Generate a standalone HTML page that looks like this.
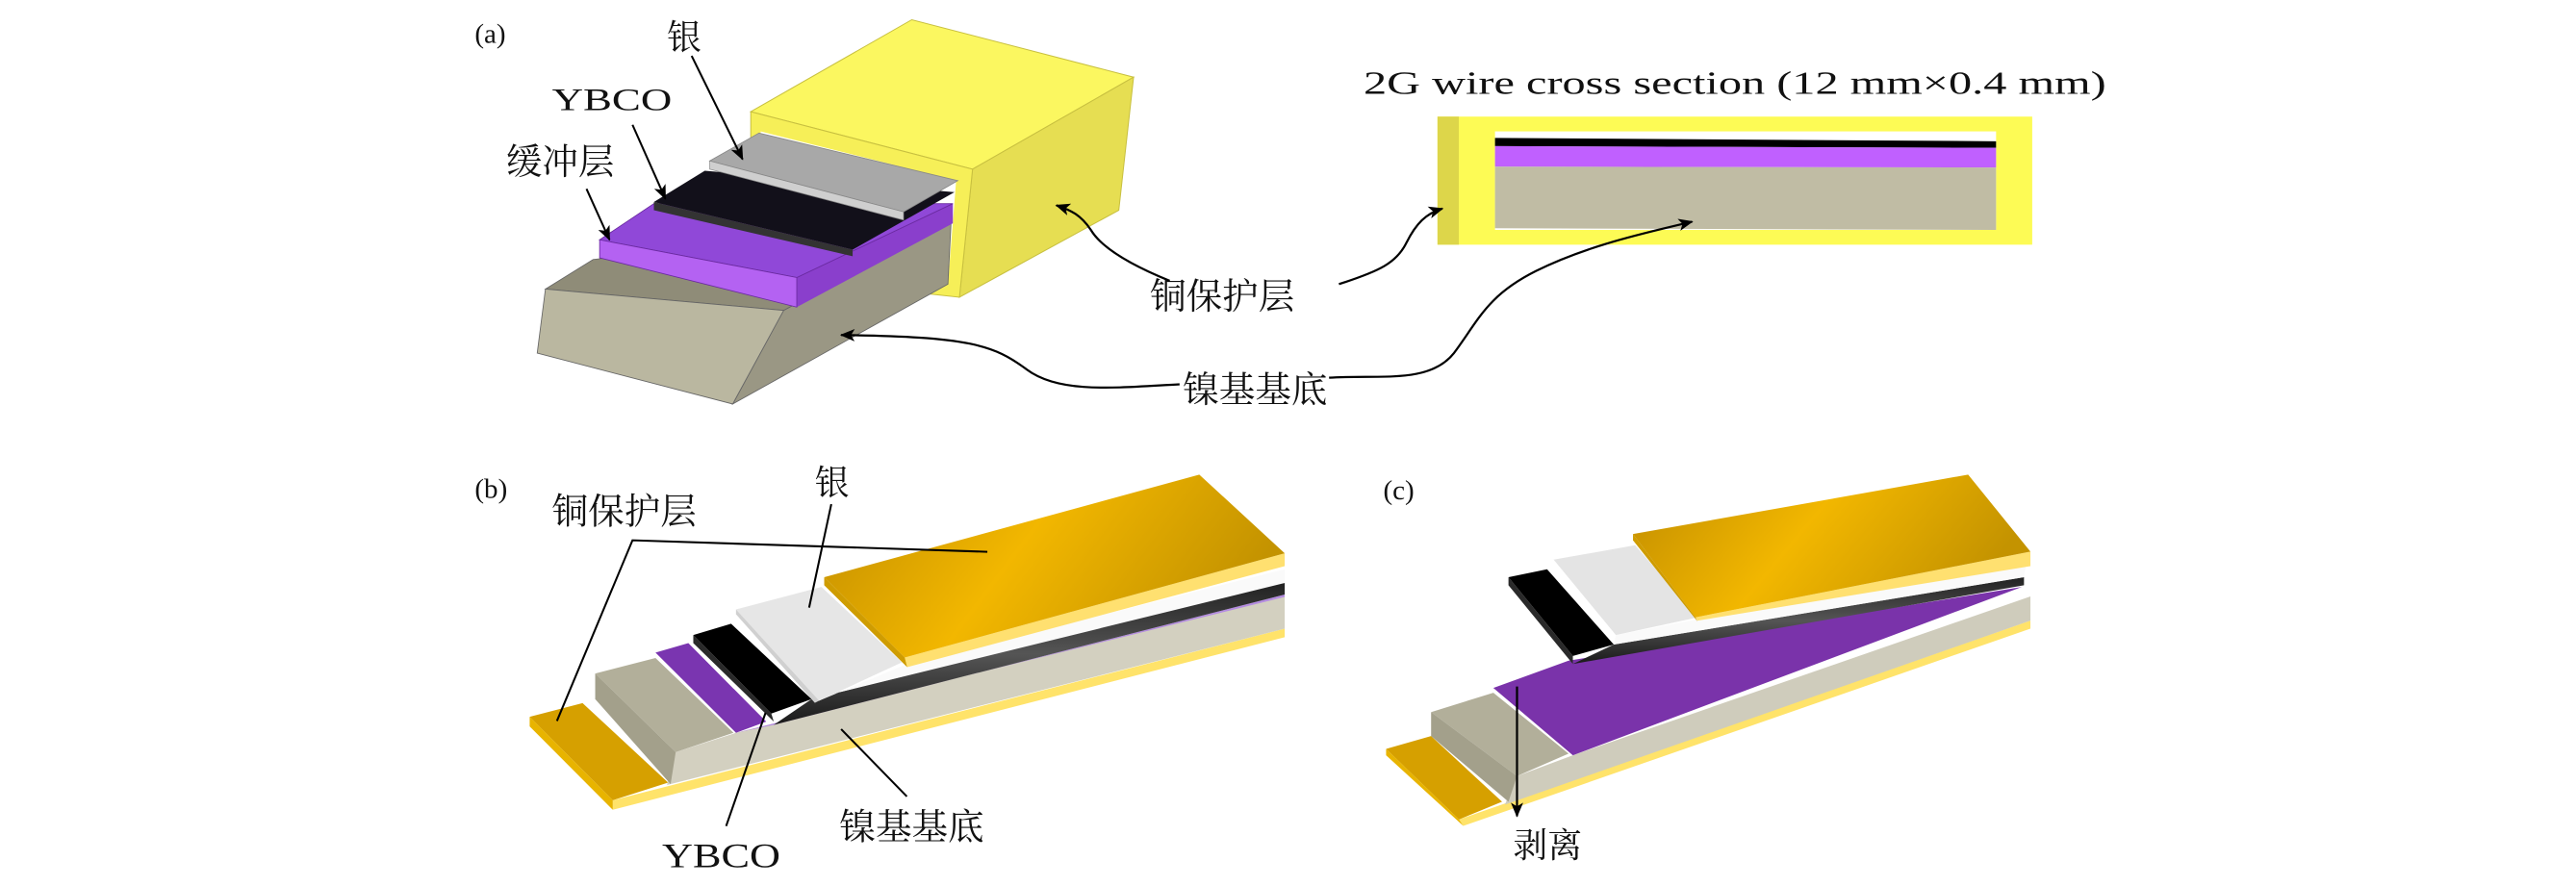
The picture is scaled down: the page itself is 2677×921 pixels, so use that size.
<!DOCTYPE html>
<html><head><meta charset="utf-8"><style>
html,body{margin:0;padding:0;background:#fff;}
svg{display:block;}
text{font-family:"Liberation Serif","Noto Serif CJK SC","Noto Sans CJK SC",serif;fill:#111;}
</style></head><body>
<svg width="2677" height="921" viewBox="0 0 1568 539.5" preserveAspectRatio="none" xmlns="http://www.w3.org/2000/svg">
<defs>
<marker id="ah" viewBox="0 0 12 10" refX="11" refY="5" markerWidth="9" markerHeight="8" orient="auto" markerUnits="userSpaceOnUse">
<path d="M0,0 L12,5 L0,10 L3,5 z" fill="#000"/></marker>
<linearGradient id="gold" x1="0" y1="0" x2="1" y2="0.3">
<stop offset="0" stop-color="#c08c00"/><stop offset="0.5" stop-color="#f2b700"/><stop offset="1" stop-color="#c49300"/></linearGradient>
<linearGradient id="blk" x1="0" y1="0" x2="0" y2="1">
<stop offset="0" stop-color="#222"/><stop offset="0.5" stop-color="#555"/><stop offset="1" stop-color="#1a1a1a"/></linearGradient>
</defs>
<rect width="1568" height="540" fill="#fff"/>

<!-- ===== (a) ===== -->
<text x="289" y="26" font-size="17">(a)</text>
<polygon points="457,68 555,12 690,47 592,103" fill="#fbf760" stroke="#c8c040" stroke-width="0.6"/>
<polygon points="592,103 690,47 681,128 584,181" fill="#e6de52" stroke="#c8c040" stroke-width="0.6"/>
<polygon points="457,68 592,103 584,181 566,179 457,160" fill="#f6ef58" stroke="#c8c040" stroke-width="0.6"/>
<polygon points="463,80 582,110 577,173 463,165" fill="#fff"/>
<polygon points="477,189 579,134 577,173 446,246" fill="#9a9784" stroke="#666" stroke-width="0.5"/>
<polygon points="332,176 361,158 579,134 477,189" fill="#8f8c78" stroke="#666" stroke-width="0.5"/>
<polygon points="332,176 477,189 446,246 327,215" fill="#bab7a0" stroke="#666" stroke-width="0.5"/>
<polygon points="485,169 580,124 580,136 485,187" fill="#8a3fcc"/>
<polygon points="365,146 398,124 580,124 485,169" fill="#9048d8" stroke="#6a2aa0" stroke-width="0.5"/>
<polygon points="365,146 485,169 485,187 365,157" fill="#b462f2" stroke="#6a2aa0" stroke-width="0.5"/>
<polygon points="398,123 429,104 581,117 519,152" fill="#12101a"/>
<polygon points="398,123 519,152 519,156 398,128" fill="#333"/>
<polygon points="432,98 462,81 583,110 550,129" fill="#a8a8a8" stroke="#888" stroke-width="0.5"/>
<polygon points="432,98 550,129 550,134 432,103" fill="#cfcfcf" stroke="#888" stroke-width="0.4"/>
<text x="406" y="30" font-size="21">银</text>
<text x="336" y="67" font-size="19" textLength="73" lengthAdjust="spacingAndGlyphs">YBCO</text>
<text x="308" y="106" font-size="22">缓冲层</text>
<line x1="421" y1="34" x2="452" y2="97" stroke="#000" stroke-width="1.2" marker-end="url(#ah)"/>
<line x1="385" y1="76" x2="405" y2="121" stroke="#000" stroke-width="1.2" marker-end="url(#ah)"/>
<line x1="357" y1="115" x2="371" y2="146" stroke="#000" stroke-width="1.2" marker-end="url(#ah)"/>
<text x="700" y="188" font-size="22">铜保护层</text>
<text x="720" y="245" font-size="22">镍基基底</text>
<path d="M712,171 C685,160 670,150 664,140 C658,131 652,128 643,125" fill="none" stroke="#000" stroke-width="1.3" marker-end="url(#ah)"/>
<path d="M718,234 C680,236 645,240 625,225 C605,210 590,205 512,204" fill="none" stroke="#000" stroke-width="1.3" marker-end="url(#ah)"/>
<text x="830" y="57" font-size="20" textLength="452" lengthAdjust="spacingAndGlyphs">2G wire cross section (12 mm×0.4 mm)</text>
<rect x="875" y="71" width="362" height="78" fill="#fdfb55"/>
<rect x="875" y="71" width="13" height="78" fill="#ddd64a"/>
<rect x="910" y="80" width="305" height="60" fill="#fff"/>
<polygon points="910,84 1215,86 1215,90 910,89" fill="#000"/>
<polygon points="910,89 1215,90 1215,102 910,101.5" fill="#c060ff"/>
<polygon points="910,101.5 1215,102 1215,140 910,139" fill="#c0bca4"/>
<path d="M815,173 C840,165 850,160 856,148 C862,136 868,130 878,127" fill="none" stroke="#000" stroke-width="1.3" marker-end="url(#ah)"/>
<path d="M809,230 C840,228 870,234 885,215 C900,195 905,180 935,165 C965,150 1000,142 1030,135" fill="none" stroke="#000" stroke-width="1.3" marker-end="url(#ah)"/>

<!-- ===== (b) ===== -->
<text x="289" y="303" font-size="17">(b)</text>
<polygon points="373,487.3 782,382.8 782,388 373,493.1" fill="#ffe36a"/>
<polygon points="322.4,436.5 354.6,428.1 406.7,476.5 373,487.3" fill="#d6a000"/>
<polygon points="322.4,436.5 373,487.3 373,493.1 322.4,442.3" fill="#e8b400"/>
<polygon points="406,478 411.3,458 448,446.2 782,363.2 782,382.8" fill="#d3d0c0"/>
<polygon points="362.3,410.1 399,400.7 446.5,446.2 411.3,458" fill="#b2af9a"/>
<polygon points="362.3,410.1 411.3,458 408.2,477.5 362.3,425.7" fill="#a3a08b"/>
<polygon points="448,446.2 471,441.4 782,362 782,363.5" fill="#b48ce0"/>
<polygon points="399,397.4 419,391.6 466.4,439.4 448,446.2" fill="#7a35b0"/>
<polygon points="471,441.4 494,425.7 777.4,355.4 782,355 782,362" fill="url(#blk)"/>
<polygon points="422,386.7 445,379.8 494,425.7 469.5,434.5" fill="#000"/>
<polygon points="422,386.7 469.5,434.5 471,439.4 422,391.6" fill="#2a2a2a"/>
<polygon points="498.6,426.7 552,404.3 782,346.6 782,355 494,425.7" fill="#fafafa"/>
<polygon points="448,371.1 500,357.4 549,403.3 498.6,426.7" fill="#e6e6e6"/>
<polygon points="448,371.1 498.6,426.7 496,428 448,374" fill="#d0d0d0"/>
<polygon points="550.7,400.4 782,336.9 782,344.7 552.2,406.2" fill="#ffe070"/>
<polygon points="501.7,351.5 730,289 782,336.9 550.7,400.4" fill="url(#gold)"/>
<polygon points="501.7,351.5 550.7,400.4 552.2,406.2 501.7,356.4" fill="#cf9c00"/>
<text x="336" y="319" font-size="22">铜保护层</text>
<text x="496" y="301" font-size="21">银</text>
<polyline points="601,336 385,329 339,439" fill="none" stroke="#000" stroke-width="1.2"/>
<line x1="506" y1="307" x2="492.5" y2="370" stroke="#000" stroke-width="1.2"/>
<line x1="466" y1="434" x2="442" y2="503" stroke="#000" stroke-width="1.2"/>
<line x1="512" y1="444" x2="552" y2="485" stroke="#000" stroke-width="1.2"/>
<text x="403" y="528" font-size="21" textLength="72" lengthAdjust="spacingAndGlyphs">YBCO</text>
<text x="511" y="511" font-size="22">镍基基底</text>

<!-- ===== (c) ===== -->
<text x="842" y="304" font-size="17">(c)</text>
<polygon points="888.1,499 1235.9,377.9 1235.9,382.8 890.7,502.9" fill="#ffe36a"/>
<polygon points="843.7,456 871.1,448.2 914.3,488.2 888.1,499" fill="#d6a000"/>
<polygon points="843.7,456 888.1,499 890.7,502.9 843.7,459.9" fill="#e8b400"/>
<polygon points="916,490 923.4,472.6 957.4,459.9 1235.9,363.2 1235.9,377.9" fill="#cfccbc"/>
<polygon points="871.1,433.6 909,421.8 954.8,458.9 923.4,472.6" fill="#b2af9a"/>
<polygon points="871.1,433.6 923.4,472.6 918.2,488.2 871.1,448.2" fill="#a3a08b"/>
<polygon points="909,418.9 954.8,402.3 1230.7,357.4 957.4,459.9" fill="#7a33aa"/>
<polygon points="957.4,404.3 982.3,392.5 1232,351.5 1232,356.4" fill="url(#blk)"/>
<polygon points="918.2,351.5 941.7,346.6 982.3,392.5 957.4,399.4" fill="#000"/>
<polygon points="918.2,351.5 957.4,399.4 957.4,404.3 918.2,356.4" fill="#2a2a2a"/>
<polygon points="983.6,386.7 1034.6,376.9 1233.3,343.7 1232,351.5 982.3,392.5" fill="#fafafa"/>
<polygon points="945.7,340.8 995.3,332 1033.3,375.9 983.6,386.7" fill="#e4e4e4"/>
<polygon points="1032,375.9 1235.9,335.9 1235.9,344.7 1033.3,377.9" fill="#ffe070"/>
<polygon points="994,325.2 1198,289 1235.9,335.9 1032,375.9" fill="url(#gold)"/>
<polygon points="994,325.2 1032,375.9 1033.3,378.5 994,329" fill="#cf9c00"/>
<line x1="923.4" y1="418" x2="923.4" y2="497" stroke="#000" stroke-width="1.3" marker-end="url(#ah)"/>
<text x="921" y="522" font-size="21">剥离</text>
</svg>
</body></html>
